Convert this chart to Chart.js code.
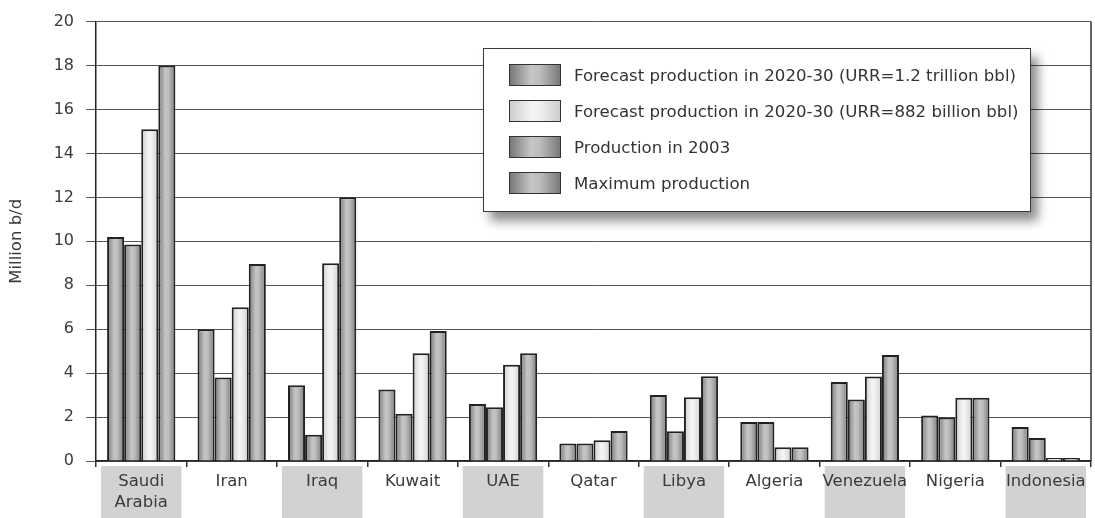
<!DOCTYPE html>
<html>
<head>
<meta charset="utf-8">
<script src="https://cdn.jsdelivr.net/npm/chart.js@4.4.1/dist/chart.umd.min.js"></script>
<style>
  body { margin: 0; background: #fff; font-family: "DejaVu Sans", sans-serif; }
  #wrap { position: relative; width: 1095px; height: 518px; }
  #legend {
    position: absolute; left: 483px; top: 48px; width: 546px; height: 162px;
    background: #fff; border: 1.5px solid #3a3a3a;
    box-shadow: 7px 9px 10px rgba(0,0,0,0.45);
  }
  .item { position: absolute; left: 25px; height: 22px; display: flex; align-items: center; }
  .swatch { width: 50px; height: 20px; border: 1.5px solid #333; margin-right: 13px; }
  .item span { font-size: 16.6px; color: #333; white-space: nowrap; }
</style>
</head>
<body>
<div id="wrap">
  <canvas id="chart" width="1095" height="518"></canvas>
  <div id="legend"></div>
</div>
<script>
// Data
const countries = [['Saudi', 'Arabia'], 'Iran', 'Iraq', 'Kuwait', 'UAE', 'Qatar', 'Libya', 'Algeria', 'Venezuela', 'Nigeria', 'Indonesia'];
const forecastHigh = [10.2, 6.0, 3.45, 3.25, 2.6, 0.8, 3.0, 1.77, 3.6, 2.07, 1.55];
const production2003 = [9.85, 3.8, 1.2, 2.15, 2.45, 0.8, 1.35, 1.77, 2.8, 1.98, 1.05];
const forecastLow = [15.1, 7.0, 9.0, 4.9, 4.38, 0.95, 2.9, 0.63, 3.85, 2.88, 0.08];
const maxProduction = [18.0, 8.97, 12.0, 5.92, 4.9, 1.37, 3.86, 0.63, 4.83, 2.88, 0.08];
const yTicks = [0, 2, 4, 6, 8, 10, 12, 14, 16, 18, 20];

// shading of the bars (left -> right)
const midShade = [[0, '#777'], [0.42, '#c6c6c6'], [0.6, '#bdbdbd'], [1, '#7a7a7a']];
const lightShade = [[0, '#cdcdcd'], [0.45, '#f5f5f5'], [0.6, '#f0f0f0'], [1, '#cecece']];

const datasets = [
    { label: 'Forecast production in 2020-30 (URR=1.2 trillion bbl)', data: forecastHigh, shade: midShade },
    { label: 'Production in 2003', data: production2003, shade: midShade },
    { label: 'Forecast production in 2020-30 (URR=882 billion bbl)', data: forecastLow, shade: lightShade },
    { label: 'Maximum production', data: maxProduction, shade: midShade }
];
const legendOrder = [0, 2, 1, 3];
const font = 'DejaVu Sans';

// Build html legend
const legendEl = document.getElementById('legend');
legendOrder.forEach((idx, row) => {
    const ds = datasets[idx];
    const stops = ds.shade.map(s => `${s[1]} ${s[0] * 100}%`).join(', ');
    legendEl.innerHTML += `
        <div class="item" style="top:${15 + row * 36}px">
            <div class="swatch" style="background:linear-gradient(to right, ${stops})"></div>
            <span>${ds.label}</span>
        </div>`;
});

// Gradient fill for each bar
const shadePlugin = {
    id: 'shade',
    beforeDatasetsDraw(chart) {
        const ctx = chart.ctx;
        datasets.forEach((ds, i) => {
            chart.getDatasetMeta(i).data.forEach(bar => {
                const g = ctx.createLinearGradient(bar.x - bar.width / 2, 0, bar.x + bar.width / 2, 0);
                ds.shade.forEach(s => g.addColorStop(s[0], s[1]));
                bar.options = Object.assign({}, bar.options, { backgroundColor: g });
            });
        });
    }
};

// Gray label boxes + right frame line
const framePlugin = {
    id: 'frame',
    beforeDraw(chart) {
        const ctx = chart.ctx;
        const x = chart.scales.x;
        const area = chart.chartArea;
        const step = (area.right - area.left) / countries.length;
        ctx.save();
        ctx.fillStyle = '#d2d2d2';
        countries.forEach((c, i) => {
            if (i % 2 !== 0) return;
            const cx = x.getPixelForTick(i);
            ctx.fillRect(cx - step / 2 + 5, area.bottom + 5, step - 10, chart.height - area.bottom - 5);
        });
        ctx.restore();
    },
    afterDraw(chart) {
        const ctx = chart.ctx;
        const area = chart.chartArea;
        ctx.save();
        ctx.strokeStyle = '#333';
        ctx.lineWidth = 1.5;
        ctx.beginPath();
        ctx.moveTo(area.right, area.top);
        ctx.lineTo(area.right, area.bottom);
        ctx.stroke();
        ctx.restore();
    }
};

new Chart(document.getElementById('chart'), {
    type: 'bar',
    data: {
        labels: countries,
        datasets: datasets.map(ds => ({
            label: ds.label,
            data: ds.data,
            backgroundColor: '#bbb',
            borderColor: '#222',
            borderWidth: 2,
            minBarLength: 3,
            categoryPercentage: 0.755,
            barPercentage: 1.0
        }))
    },
    options: {
        responsive: false,
        animation: false,
        layout: { padding: { top: 18, right: 4, left: 0, bottom: 0 } },
        plugins: {
            legend: { display: false },
            tooltip: { enabled: false }
        },
        scales: {
            x: {
                offset: true,
                grid: { offset: true, drawOnChartArea: false, tickLength: 6, color: '#333', lineWidth: 1.5 },
                border: { color: '#222', width: 1.5 },
                ticks: {
                    color: '#3a3a3a', padding: 4, maxRotation: 0, autoSkip: false,
                    font: { family: font, size: 16.5, lineHeight: 1.3 }
                },
                afterFit(scale) { scale.height = 57; }
            },
            y: {
                min: 0,
                max: 20,
                afterBuildTicks(scale) { scale.ticks = yTicks.map(v => ({ value: v })); },
                grid: { color: '#555', lineWidth: 1, tickLength: 10 },
                border: { color: '#222', width: 1.5 },
                ticks: {
                    color: '#3a3a3a', padding: 12,
                    font: { family: font, size: 16 }
                },
                title: {
                    display: true, text: 'Million b/d', color: '#3a3a3a',
                    font: { family: font, size: 16.5 },
                    padding: { top: 7, bottom: 0 }
                },
                afterFit(scale) { scale.width = 96; }
            }
        }
    },
    plugins: [shadePlugin, framePlugin]
});
</script>
</body>
</html>
